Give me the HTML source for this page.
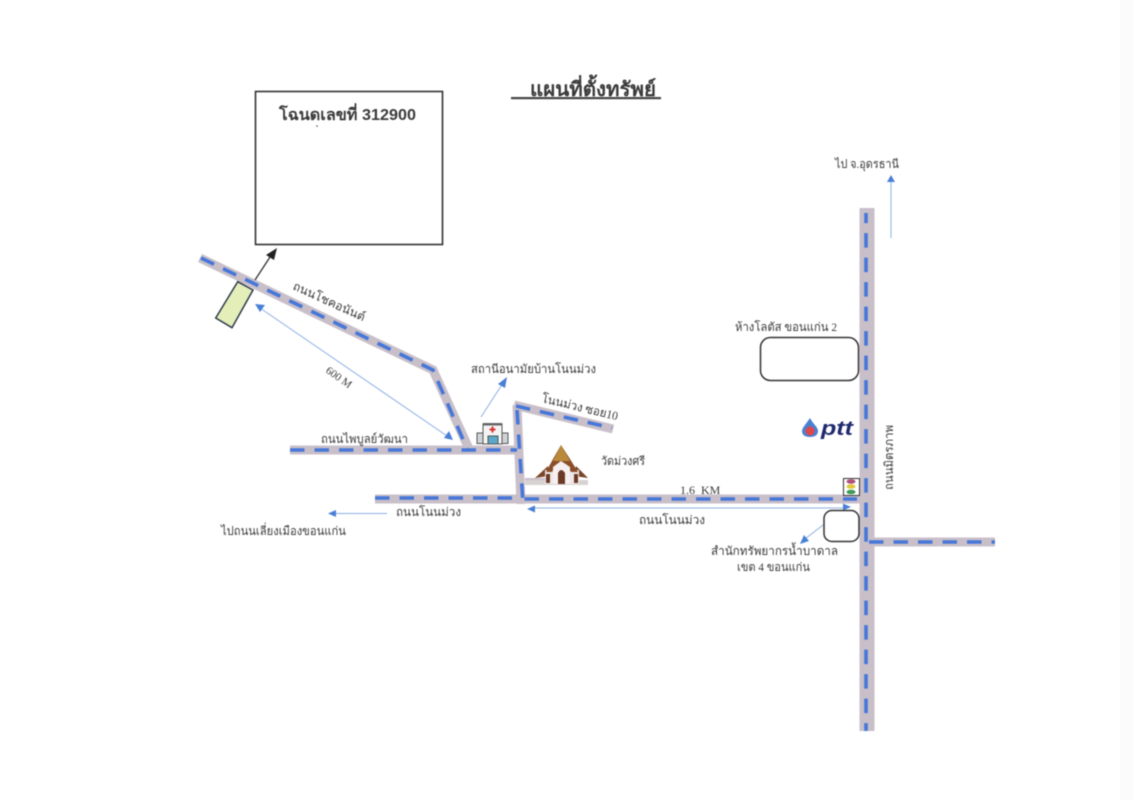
<!DOCTYPE html>
<html lang="th"><head><meta charset="utf-8"><style>
html,body{margin:0;padding:0;background:#fff;width:1133px;height:800px;overflow:hidden}
svg{display:block;filter:blur(.45px)}
text{font-family:"Liberation Serif","Noto Sans CJK SC","WenQuanYi Zen Hei",serif;fill:#3a3a3a;font-size:12px}
.b{fill:none;stroke:#c9bfc9;stroke-width:9}
.d{fill:none;stroke:#4677d8;stroke-width:3.600;stroke-dasharray:14.500 10}
.a{stroke:#8db0e4;stroke-width:1;fill:none}
.h{fill:#4a7fd6}
</style></head><body>
<svg width="1133" height="800" viewBox="0 0 1133 800" xmlns="http://www.w3.org/2000/svg">
<rect width="1133" height="800" fill="#fff"/>
<rect x="1120" width="13" height="800" fill="#fbfbfb"/>
<text x="530" y="96" textLength="126" lengthAdjust="spacingAndGlyphs" style="font-size:20px;font-weight:bold;font-family:'Liberation Sans','WenQuanYi Zen Hei',sans-serif">แผนที่ตั้งทรัพย์</text>
<rect x="511" y="97" width="150" height="2.200" fill="#444"/>
<rect x="255.500" y="91.500" width="187" height="153" fill="#fff" stroke="#333" stroke-width="1.600"/>
<text x="279" y="120" textLength="137" lengthAdjust="spacingAndGlyphs" style="font-size:16px;font-weight:bold;font-family:'Liberation Sans','WenQuanYi Zen Hei',sans-serif">โฉนดเลขที่ 312900</text>
<circle cx="317" cy="126" r=".8" fill="#444"/>
<!-- roads -->
<path class="b" d="M200 258L433 370L470 451"/>
<path class="b" d="M290 450H517"/>
<path class="b" d="M514 405L613 429"/>
<path class="b" d="M517 405L521 504"/>
<path class="b" d="M525 481H545" style="stroke-width:6"/>
<path class="b" d="M375 499H860"/>
<path class="b" d="M867 208V731" style="stroke-width:15"/>
<path class="b" d="M867 542H995"/>
<path class="d" d="M201 258L433 370L468 451"/>
<path class="d" d="M290 450H517"/>
<path class="d" d="M516 406L612 428"/>
<path class="d" d="M517 410L523 503"/>
<path class="d" d="M375 498H513"/>
<path class="d" d="M524.500 499H857"/>
<path class="d" d="M866 213V731" style="stroke-dashoffset:4.400"/>
<path class="d" d="M869 542H995"/>
<!-- plot -->
<path d="M237.700 281.700L253 290L232 327.700L215.700 318Z" fill="#e3eeb9" stroke="#2f3a4a" stroke-width="1.500"/>
<path d="M255 280L272 254" stroke="#333" stroke-width="1.300" fill="none"/>
<path d="M277 248L274 260L266 255Z" fill="#222"/>
<!-- blue arrows -->
<path class="a" d="M260 308L450 438"/><path class="h" d="M255 304L265 305L260 312Z"/><path class="h" d="M453 440L444 438L449 431Z"/>
<path class="a" d="M481 417L503 383"/><path class="h" d="M507 377L505 388L498 384Z"/>
<path class="a" d="M335 513.500H387"/><path class="h" d="M328 513.500L336 510V517Z"/>
<path class="a" d="M530 508H845"/><path class="h" d="M527 509L535 505.500V512.500Z"/><path class="h" d="M851 507L843 503.500V510.500Z"/>
<path class="a" d="M823 525L805 539"/><path class="h" d="M800 544L804 535L809 541Z"/>
<path class="a" d="M891 238V180"/><path class="h" d="M891 175L895 182H887Z"/>
<!-- rounded boxes -->
<rect x="760.500" y="337.500" width="98" height="43" rx="10" fill="#fff" stroke="#333" stroke-width="1.500"/>
<rect x="824" y="510.500" width="35" height="31" rx="8" fill="#fff" stroke="#333" stroke-width="1.500"/>
<!-- traffic light -->
<rect x="843.500" y="478.500" width="16" height="17" fill="#fff" stroke="#333"/>
<ellipse cx="851" cy="481.500" rx="4.500" ry="2.300" fill="#b0507a"/><ellipse cx="851" cy="486.500" rx="4.500" ry="2.300" fill="#e0c83a"/><ellipse cx="851" cy="492" rx="4.500" ry="2.300" fill="#3f9a55"/>
<!-- hospital -->
<g stroke="#555" fill="#e6e9eb" stroke-width="1">
<rect x="477" y="433" width="7" height="10.500" fill="#cfd3d6"/>
<rect x="501" y="433" width="7" height="10.500" fill="#cfd3d6"/>
<rect x="483" y="424" width="19" height="20" fill="#f4f4f4"/>
<rect x="488" y="436" width="10" height="8" fill="#5aa7c9"/>
</g>
<rect x="483" y="423" width="19" height="2.500" fill="#666"/>
<path d="M491.500 426.500h2v2h2v2h-2v2h-2v-2h-2v-2h2z" fill="#d33"/>
<!-- temple -->
<rect x="525" y="480" width="63" height="5" fill="#d8d2d2"/>
<path d="M548 466L535 478L549 476Z" fill="#7a4528"/>
<path d="M576 466L588 478L574 476Z" fill="#7a4528"/>
<path d="M545 470H579V484H545Z" fill="#efe6e8"/>
<path d="M561 445L553 459L546 472H552L557 464H566L571 472H578L570 459Z" fill="#8a4f2a"/>
<path d="M561 445L553 461H570Z" fill="#b98a3a"/>
<path d="M553 484V467L561 461L570 467V484Z" fill="#f6f0f0"/>
<path d="M558 484V473Q561 467 565 473V484Z" fill="#6b3a26"/>
<rect x="546" y="474" width="4" height="9" fill="#6b3a26"/>
<rect x="574" y="474" width="4" height="9" fill="#6b3a26"/>
<!-- ptt -->
<path d="M810 418C806 424 802 428 802 431C802 435 805 437 810 437C815 437 818 435 818 431C818 427 813 424 810 418Z" fill="#4a80d0"/>
<circle cx="810" cy="431" r="4.500" fill="#e0464a"/>
<text x="821" y="435" textLength="32" lengthAdjust="spacingAndGlyphs" style="font-size:20px;font-weight:bold;font-style:italic;fill:#1f2a6e;font-family:'Liberation Sans',sans-serif">ptt</text>
<!-- labels -->
<text transform="translate(292 289) rotate(24.500)" textLength="78" lengthAdjust="spacingAndGlyphs">ถนนโชคอนันต์</text>
<text transform="translate(325 372) rotate(35)" style="font-size:11px">600 M</text>
<text x="321" y="443" textLength="87" lengthAdjust="spacingAndGlyphs">ถนนไพบูลย์วัฒนา</text>
<text x="471" y="373" textLength="125" lengthAdjust="spacingAndGlyphs">สถานีอนามัยบ้านโนนม่วง</text>
<text transform="translate(541 402) rotate(13.500)" textLength="78" lengthAdjust="spacingAndGlyphs">โนนม่วง ซอย10</text>
<text x="601" y="465" textLength="44" lengthAdjust="spacingAndGlyphs">วัดม่วงศรี</text>
<text x="680" y="494" style="font-size:12px">1.6&#160;&#160;KM</text>
<text x="396" y="516" textLength="65" lengthAdjust="spacingAndGlyphs">ถนนโนนม่วง</text>
<text x="639" y="524" textLength="66" lengthAdjust="spacingAndGlyphs">ถนนโนนม่วง</text>
<text x="221" y="535" textLength="125" lengthAdjust="spacingAndGlyphs">ไปถนนเลี่ยงเมืองขอนแก่น</text>
<text x="711" y="555" textLength="127" lengthAdjust="spacingAndGlyphs">สำนักทรัพยากรน้ำบาดาล</text>
<text x="737" y="571" textLength="73" lengthAdjust="spacingAndGlyphs">เขต 4 ขอนแก่น</text>
<text x="735" y="331" textLength="102" lengthAdjust="spacingAndGlyphs">ห้างโลตัส ขอนแก่น 2</text>
<text x="835" y="168" textLength="64" lengthAdjust="spacingAndGlyphs">ไป จ.อุดรธานี</text>
<text transform="translate(893 490) rotate(-90)" textLength="65" lengthAdjust="spacingAndGlyphs">ถนนมิตรภาพ</text>
</svg>
</body></html>
